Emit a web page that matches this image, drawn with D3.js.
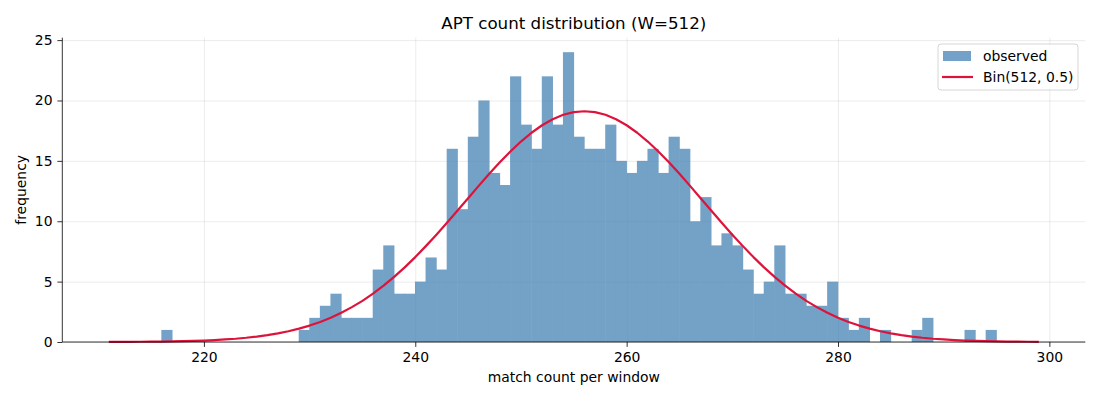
<!DOCTYPE html>
<html>
<head>
  <meta charset="UTF-8">
  <title>APT count distribution (W=512)</title>
  <style>
    body { margin: 0; background: #fff; }
    text { font-family: "DejaVu Sans", sans-serif; fill: #000; }
    .grid line { stroke: #b0b0b0; stroke-opacity: 0.3; stroke-width: 0.8; }
    .grid path { display: none; }
    .axis path, .axis line { stroke: #000; stroke-width: 0.8; }
    .axis text { font-size: 13.9px; }
  </style>
</head>
<body>
  <svg id="chart"></svg>
  <script src="https://cdn.jsdelivr.net/npm/d3@7/dist/d3.min.js"></script>
  <script>
    // histogram: left edge of each 1-wide bin, and its count
    var binStart = [216, 217, 218, 219, 220, 221, 222, 223, 224, 225, 226, 227, 228,
      229, 230, 231, 232, 233, 234, 235, 236, 237, 238, 239,
      240, 241, 242, 243, 244, 245, 246, 247, 248, 249,
      250, 251, 252, 253, 254, 255, 256, 257, 258, 259,
      260, 261, 262, 263, 264, 265, 266, 267, 268, 269,
      270, 271, 272, 273, 274, 275, 276, 277, 278, 279,
      280, 281, 282, 283, 284, 285, 286, 287, 288, 289, 290, 291, 292, 293, 294];
    var binCount = [1, 0, 0, 0, 0, 0, 0, 0, 0, 0, 0, 0, 0,
      1, 2, 3, 4, 2, 2, 2, 6, 8, 4, 4,
      5, 7, 6, 16, 11, 17, 20, 14, 13, 22,
      18, 16, 22, 18, 24, 17, 16, 16, 18, 15,
      14, 15, 16, 14, 17, 16, 10, 12, 8, 9,
      8, 6, 4, 5, 8, 4, 4, 3, 3, 5,
      2, 1, 2, 0, 1, 0, 0, 1, 2, 0, 0, 0, 1, 0, 1];

    // expected counts Bin(512, 0.5) (k = 211..299)
    var curveK = d3.range(211, 300);
    var curveY = [0.007, 0.010, 0.014, 0.019, 0.027, 0.037, 0.050, 0.068, 0.091, 0.12,
      0.16, 0.21, 0.27, 0.35, 0.45, 0.57, 0.72, 0.89, 1.11, 1.36,
      1.66, 2.01, 2.42, 2.89, 3.41, 4.01, 4.67, 5.39, 6.18, 7.03,
      7.94, 8.89, 9.88, 10.89, 11.91, 12.93, 13.93, 14.88, 15.78, 16.60,
      17.33, 17.95, 18.45, 18.82, 19.04, 19.11, 19.04, 18.82, 18.45, 17.95,
      17.33, 16.60, 15.78, 14.88, 13.93, 12.93, 11.91, 10.89, 9.88, 8.89,
      7.94, 7.03, 6.18, 5.39, 4.67, 4.01, 3.41, 2.89, 2.42, 2.01,
      1.66, 1.36, 1.11, 0.89, 0.72, 0.57, 0.45, 0.35, 0.27, 0.21,
      0.16, 0.12, 0.091, 0.068, 0.050, 0.037, 0.027, 0.019, 0.014];

    var xTicks = [220, 240, 260, 280, 300];
    var yTicks = [0, 5, 10, 15, 20, 25];

    var W = 1100, H = 400;
    var plotL = 62.3, plotR = 1085.3, plotT = 37.7, plotB = 342;

    var svg = d3.select("#chart").attr("width", W).attr("height", H);

    var x = d3.scaleLinear().domain([206.6, 303.4]).range([plotL, plotR]);
    var y = d3.scaleLinear().domain([0, 25.2]).range([plotB, plotT]);

    // 网格
    svg.append("g").attr("class", "grid")
      .attr("transform", "translate(0," + plotB + ")")
      .call(d3.axisBottom(x).tickValues(xTicks).tickSize(-(plotB - plotT)).tickFormat(""));
    svg.append("g").attr("class", "grid")
      .attr("transform", "translate(" + plotL + ",0)")
      .call(d3.axisLeft(y).tickValues(yTicks).tickSize(-(plotR - plotL)).tickFormat(""));

    // 柱子 (opacity on the group so neighbouring bars join without seams)
    svg.append("g")
      .attr("opacity", 0.75)
      .selectAll("rect")
      .data(binStart.map(function(d, i) { return { x0: d, n: binCount[i] }; })
        .filter(function(d) { return d.n > 0; }))
      .enter().append("rect")
      .attr("x", function(d) { return x(d.x0) - 0.3; })
      .attr("width", function(d) { return x(d.x0 + 1) - x(d.x0) + 0.6; })
      .attr("y", function(d) { return y(d.n); })
      .attr("height", function(d) { return y(0) - y(d.n); })
      .attr("fill", "steelblue");

    // 曲线
    var line = d3.line()
      .x(function(d, i) { return x(curveK[i]); })
      .y(function(d) { return y(d); });
    svg.append("path")
      .datum(curveY)
      .attr("d", line)
      .attr("fill", "none")
      .attr("stroke", "crimson")
      .attr("stroke-width", 2.2)
      .attr("stroke-linejoin", "round");

    // 坐标轴
    var xAxis = svg.append("g").attr("class", "axis")
      .attr("transform", "translate(0," + plotB + ")")
      .call(d3.axisBottom(x).tickValues(xTicks).tickSize(4.9).tickPadding(4.9).tickSizeOuter(0));
    xAxis.select(".domain").attr("d", "M" + plotL + ",0H" + plotR);

    var yAxis = svg.append("g").attr("class", "axis")
      .attr("transform", "translate(" + plotL + ",0)")
      .call(d3.axisLeft(y).tickValues(yTicks).tickSize(4.9).tickPadding(4.9).tickSizeOuter(0));
    yAxis.select(".domain").attr("d", "M0," + plotB + "V" + plotT);

    // 标题
    svg.append("text")
      .attr("x", (plotL + plotR) / 2)
      .attr("y", 29.3)
      .style("text-anchor", "middle")
      .style("font-size", "16.7px")
      .text("APT count distribution (W=512)");

    svg.append("text")
      .attr("x", (plotL + plotR) / 2)
      .attr("y", 382)
      .style("text-anchor", "middle")
      .style("font-size", "13.9px")
      .text("match count per window");

    svg.append("text")
      .attr("transform", "translate(26," + (plotT + plotB) / 2 + ") rotate(-90)")
      .style("text-anchor", "middle")
      .style("font-size", "13.9px")
      .text("frequency");

    // 图例
    var lg = svg.append("g").attr("transform", "translate(938,44)");
    lg.append("rect")
      .attr("width", 140).attr("height", 46).attr("rx", 3)
      .attr("fill", "#fff").attr("fill-opacity", 0.8)
      .attr("stroke", "#cccccc").attr("stroke-width", 0.8);
    lg.append("rect")
      .attr("x", 5).attr("y", 7).attr("width", 28).attr("height", 10)
      .attr("fill", "steelblue").attr("fill-opacity", 0.75);
    lg.append("text").attr("x", 45).attr("y", 17).style("font-size", "13.9px").text("observed");
    lg.append("line")
      .attr("x1", 4).attr("x2", 35).attr("y1", 33).attr("y2", 33)
      .attr("stroke", "crimson").attr("stroke-width", 2.2);
    lg.append("text").attr("x", 45).attr("y", 38).style("font-size", "13.9px").text("Bin(512, 0.5)");
  </script>
</body>
</html>
